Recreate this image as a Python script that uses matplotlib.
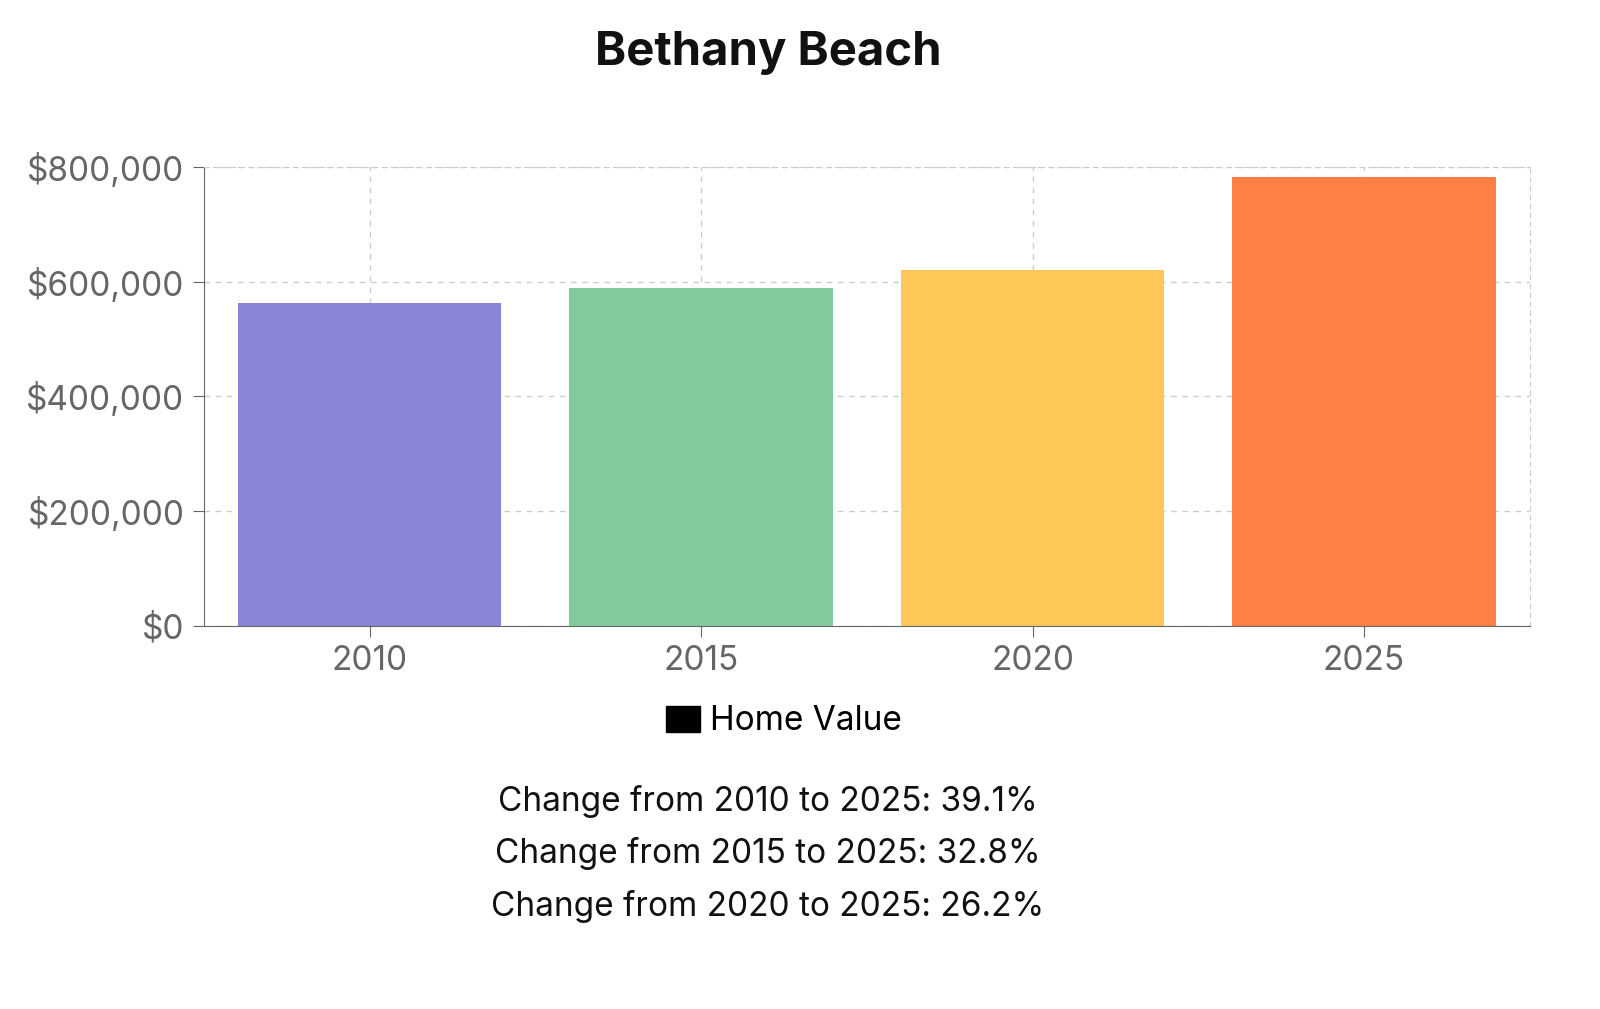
import matplotlib
matplotlib.use("Agg")
import matplotlib.pyplot as plt
from matplotlib.patches import Patch

years = ["2010", "2015", "2020", "2025"]
values = [562900, 589600, 620400, 783000]
colors = ["#8884d8", "#82ca9d", "#ffc658", "#ff8042"]
yticks = [0, 200000, 400000, 600000, 800000]
ytick_labels = ["$0", "$200,000", "$400,000", "$600,000", "$800,000"]
notes = ["Change from 2010 to 2025: 39.1%",
         "Change from 2015 to 2025: 32.8%",
         "Change from 2020 to 2025: 26.2%"]

plt.rcParams['font.family'] = ['Inter', 'DejaVu Sans']
fig = plt.figure(figsize=(16, 10.09), dpi=100)
ax = fig.add_axes([0.1275, 0.3796, 0.8285, 0.4549])
x = list(range(len(years)))
ax.bar(x, values, width=0.795, color=colors, zorder=2)
ax.set_xlim(-0.5, 3.5)
ax.set_ylim(0, 800000)
ax.set_xticks(x, years)
ax.set_yticks(yticks, ytick_labels)
ax.grid(True, linestyle=(0, (4, 4)), color="#cccccc", linewidth=1, zorder=0)
for s in ["top", "right"]:
    ax.spines[s].set_linestyle((0, (4, 4)))
    ax.spines[s].set_color("#cccccc")
for s in ["left", "bottom"]:
    ax.spines[s].set_color("#666666")
ax.tick_params(colors="#666666", labelsize=24, length=8, pad=6)
for lab in ax.get_xticklabels() + ax.get_yticklabels():
    lab.set_color("#666666")

fig.text(0.48, 0.947, "Bethany Beach", ha="center", va="center", fontsize=34, fontweight="bold", color="#111111")
fig.legend(handles=[Patch(color="black", label="Home Value")], loc="center", bbox_to_anchor=(0.49, 0.285),
           frameon=False, fontsize=24, handlelength=1.0, handleheight=0.8, handletextpad=0.3)
for i, n in enumerate(notes):
    fig.text(0.48, 0.206 - i * 0.052, n, ha="center", va="center", fontsize=24, color="#111111")
fig.savefig("out.png", dpi=100)
